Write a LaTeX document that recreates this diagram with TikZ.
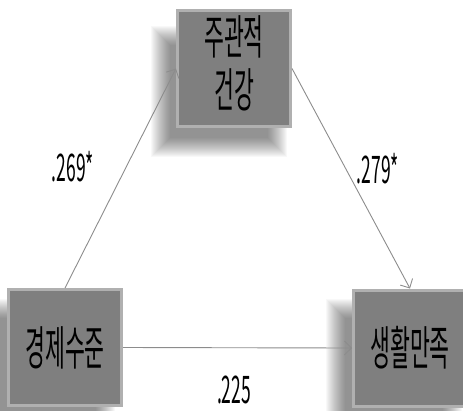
\documentclass[tikz,border=0pt]{standalone}
\usepackage{fontspec}
\setmainfont{Noto Sans CJK KR}
\usepackage{graphicx}
\usetikzlibrary{arrows.meta}
\definecolor{boxgray}{HTML}{7F7F7F}
\definecolor{bevelgray}{HTML}{B0B0B0}
\definecolor{linegray}{HTML}{8C8C8C}
\newcommand{\sqz}[1]{\scalebox{0.46}[1]{#1}}
\newcommand{\softshadow}[4]{%
  \foreach \i in {0,...,19}{%
    \fill[black, opacity=0.028] ({#1-\i*1.0},{#2-\i*1.0}) rectangle ({#3+\i*1.0},{#4+\i*1.0});
  }}
\tikzset{
  box/.style={rectangle, fill=boxgray, draw=bevelgray, line width=3pt,
    minimum width=113pt, minimum height=116pt, inner sep=0pt,
    font=\fontsize{47}{46}\selectfont},
  conn/.style={draw=linegray, line width=0.9pt, -{Straight Barb[length=7pt,width=14pt]}},
  lab/.style={font=\fontsize{38}{40}\selectfont, inner sep=0pt},
}
\begin{document}
\begin{tikzpicture}[x=1pt,y=-1pt]
\useasboundingbox (0,0) rectangle (463,410);
% soft shadows
\softshadow{170}{45}{268}{138}
\softshadow{0}{318}{96}{425}
\softshadow{345}{318}{443}{425}
% boxes
\node[box] (top) at (234,68.5) {\raisebox{-7pt}{\sqz{\begin{tabular}{@{}c@{}}주관적\\건강\end{tabular}}}};
\node[box] (bl) at (65,347.5) {\raisebox{-5pt}{\sqz{경제수준}}};
\node[box] (br) at (410,348) {\raisebox{-3pt}{\sqz{생활만족}}};
% connectors
\draw[conn] (bl.north) -- (top.west);
\draw[conn] (top.east) -- (br.north);
\draw[conn] (bl.east) -- (br.west);
% labels
\node[lab] (l1) at (73,167) {\sqz{.269*}};
\node[lab] (l2) at (378,169) {\sqz{.279*}};
\node[lab] (l3) at (234,390) {\sqz{.225}};
\end{tikzpicture}
\end{document}
